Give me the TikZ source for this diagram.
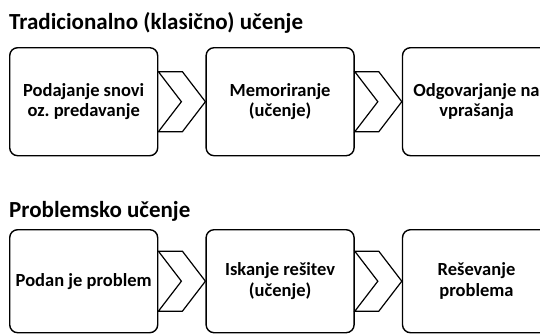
\documentclass[tikz,border=0pt]{standalone}
\usepackage{fontspec}
\setmainfont{Carlito}
\usetikzlibrary{positioning}
\frenchspacing

\tikzset{
  korak/.style={draw, line width=1.4pt, rounded corners=8pt, minimum width=148pt,
    minimum height=108pt, inner sep=0pt, align=center,
    font=\bfseries\fontsize{18.5}{20.5}\selectfont},
  naslov/.style={anchor=base west, inner sep=0pt, font=\bfseries\fontsize{23}{27}\selectfont},
  puscica/.style={draw, line width=1.2pt, fill=white, line join=miter}
}

\begin{document}
\begin{tikzpicture}[node distance=47pt]
	\useasboundingbox (0,0) rectangle (540pt,-333pt);

	% tradicionalno ucenje
	\node[naslov] (t1) at (9pt,-29pt) {Tradicionalno (klasično) učenje};
	\node[korak, anchor=north west] (a1) at (9pt,-47pt) {Podajanje snovi\\oz. predavanje};
	\node[korak, right=of a1] (a2) {Memoriranje\\(učenje)};
	\node[korak, right=of a2] (a3) {Odgovarjanje na\\vprašanja};

	% problemsko ucenje
	\node[naslov] (t2) at (9pt,-217pt) {Problemsko učenje};
	\node[korak, minimum height=103pt, anchor=north west] (b1) at (9pt,-229pt) {Podan je problem};
	\node[korak, minimum height=103pt, right=of b1] (b2) {Iskanje rešitev\\(učenje)};
	\node[korak, minimum height=103pt, right=of b2] (b3) {Reševanje\\problema};

	% puscice
	\foreach \x/\y in {a1/a2, a2/a3, b1/b2, b2/b3}
		\draw[puscica] ([yshift=30pt]\x.east) -- ++(24pt,0) -- (\y.west)
			-- ++(-23pt,-30pt) -- ++(-24pt,0) -- ++(23pt,30pt) -- cycle;
\end{tikzpicture}
\end{document}
